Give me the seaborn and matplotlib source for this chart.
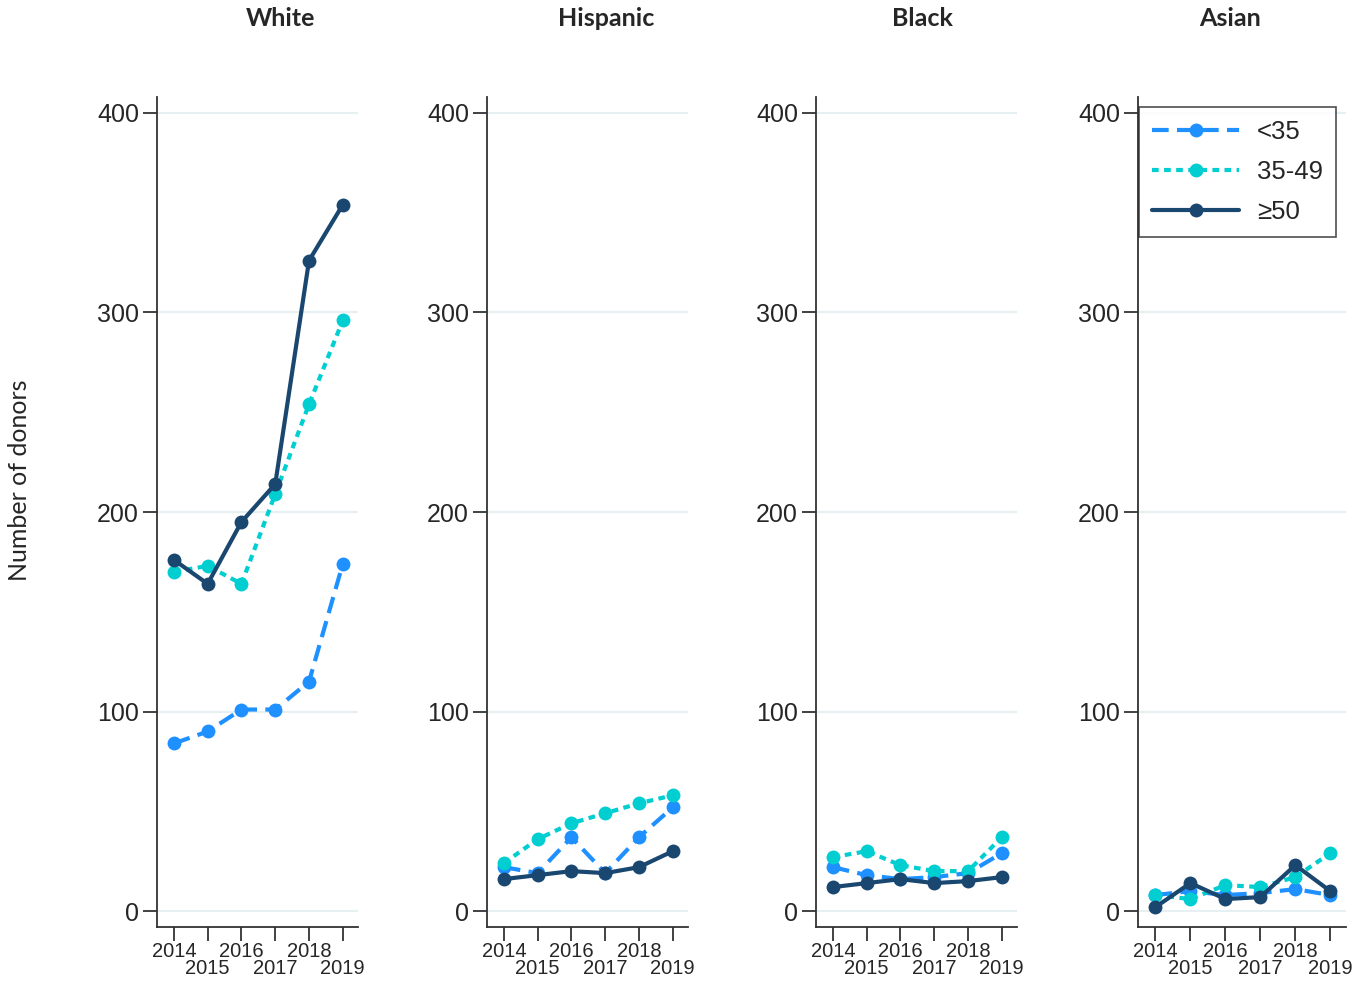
import pandas as pd
import seaborn as sns
import matplotlib.pyplot as plt

# Data
years = [2014, 2015, 2016, 2017, 2018, 2019]
groups = ['White', 'Hispanic', 'Black', 'Asian']
ages = ['<35', '35-49', '≥50']
y_ticks = [0, 100, 200, 300, 400]

white_u35 = [84, 90, 101, 101, 115, 174]
white_35_49 = [170, 173, 164, 209, 254, 296]
white_50 = [176, 164, 195, 214, 326, 354]

hisp_u35 = [22, 19, 37, 19, 37, 52]
hisp_35_49 = [24, 36, 44, 49, 54, 58]
hisp_50 = [16, 18, 20, 19, 22, 30]

black_u35 = [22, 18, 16, 17, 19, 29]
black_35_49 = [27, 30, 23, 20, 20, 37]
black_50 = [12, 14, 16, 14, 15, 17]

asian_u35 = [8, 10, 8, 9, 11, 8]
asian_35_49 = [8, 6, 13, 12, 17, 29]
asian_50 = [2, 14, 6, 7, 23, 10]

series = {
    'White': [white_u35, white_35_49, white_50],
    'Hispanic': [hisp_u35, hisp_35_49, hisp_50],
    'Black': [black_u35, black_35_49, black_50],
    'Asian': [asian_u35, asian_35_49, asian_50],
}

rows = []
for g in groups:
    for a, vals in zip(ages, series[g]):
        for yr, v in zip(years, vals):
            rows.append((g, a, yr, v))
df = pd.DataFrame(rows, columns=['group', 'age', 'year', 'donors'])

sns.set_style('white')
plt.rcParams['font.family'] = ['Liberation Sans', 'DejaVu Sans']

palette = {'<35': '#1e90ff', '35-49': '#00ced1', '≥50': '#1a476f'}
dashes = {'<35': (4, 2), '35-49': (1.6, 1.3), '≥50': ''}
markers = {'<35': 'o', '35-49': 'o', '≥50': 'o'}

W, H = 1372, 985
fig = plt.figure(figsize=(W / 100, H / 100), dpi=100)

lefts = [157, 487, 816, 1138]
widths = [201, 201, 201, 208]
title_x = [280, 606, 922, 1230]
top_px, bot_px = 97, 927

even_years = [y for y in years if y % 2 == 0]
odd_years = [y for y in years if y % 2 == 1]

for i, g in enumerate(groups):
    ax = fig.add_axes([lefts[i] / W, 1 - bot_px / H, widths[i] / W, (bot_px - top_px) / H])
    sub = df[df['group'] == g]
    sns.lineplot(data=sub, x='year', y='donors', hue='age', style='age',
                 hue_order=ages, style_order=ages, palette=palette,
                 dashes=dashes, markers=markers, markersize=10,
                 markeredgewidth=0, linewidth=3, ax=ax, legend=(i == 3))
    ax.set_ylim(-8, 408)
    ax.set_xlim(2013.5, 2019.45)
    ax.set_yticks(y_ticks)
    # alternate year labels on two rows: even years as major, odd as minor ticks
    ax.set_xticks(even_years)
    ax.set_xticklabels([str(y) for y in even_years])
    ax.set_xticks(odd_years, minor=True)
    ax.set_xticklabels([str(y) for y in odd_years], minor=True)
    ax.set_xlabel('')
    ax.set_ylabel('')
    ax.yaxis.grid(True, color='#e6eff1', lw=1.5)
    ax.xaxis.grid(False)
    ax.set_axisbelow(True)
    for s in ['top', 'right']:
        ax.spines[s].set_visible(False)
    for s in ['left', 'bottom']:
        ax.spines[s].set_color('#333333')
        ax.spines[s].set_linewidth(1.3)
    ax.tick_params(axis='both', which='both', direction='out', length=10,
                   width=1.3, color='#333333', left=True, bottom=True)
    ax.tick_params(axis='y', labelsize=18, pad=3)
    ax.tick_params(axis='x', which='major', labelsize=14.5, pad=1)
    ax.tick_params(axis='x', which='minor', labelsize=14.5, pad=13)

    fig.text(title_x[i] / W, 1 - 18 / H, g, ha='center', va='center',
             fontsize=18, fontweight='bold', family=['Lato', 'DejaVu Sans'])

    if i == 3:
        handles, labels = ax.get_legend_handles_labels()
        for h in handles:
            h.set_linewidth(3)
            h.set_markersize(10)
        leg = ax.legend(handles, labels, loc='upper right',
                        bbox_to_anchor=(0.952, 0.988), borderaxespad=0,
                        fontsize=18.5, frameon=True, fancybox=False,
                        handlelength=3.4, handletextpad=0.7,
                        labelspacing=0.62, borderpad=0.5)
        leg.get_frame().set_edgecolor('#222222')
        leg.get_frame().set_linewidth(1.2)

fig.text(20 / W, 1 - 480 / H, 'Number of donors', rotation=90, ha='center',
         va='center', fontsize=18, family=['Lato', 'DejaVu Sans'])

fig.savefig('out.png', dpi=100, facecolor='white')
